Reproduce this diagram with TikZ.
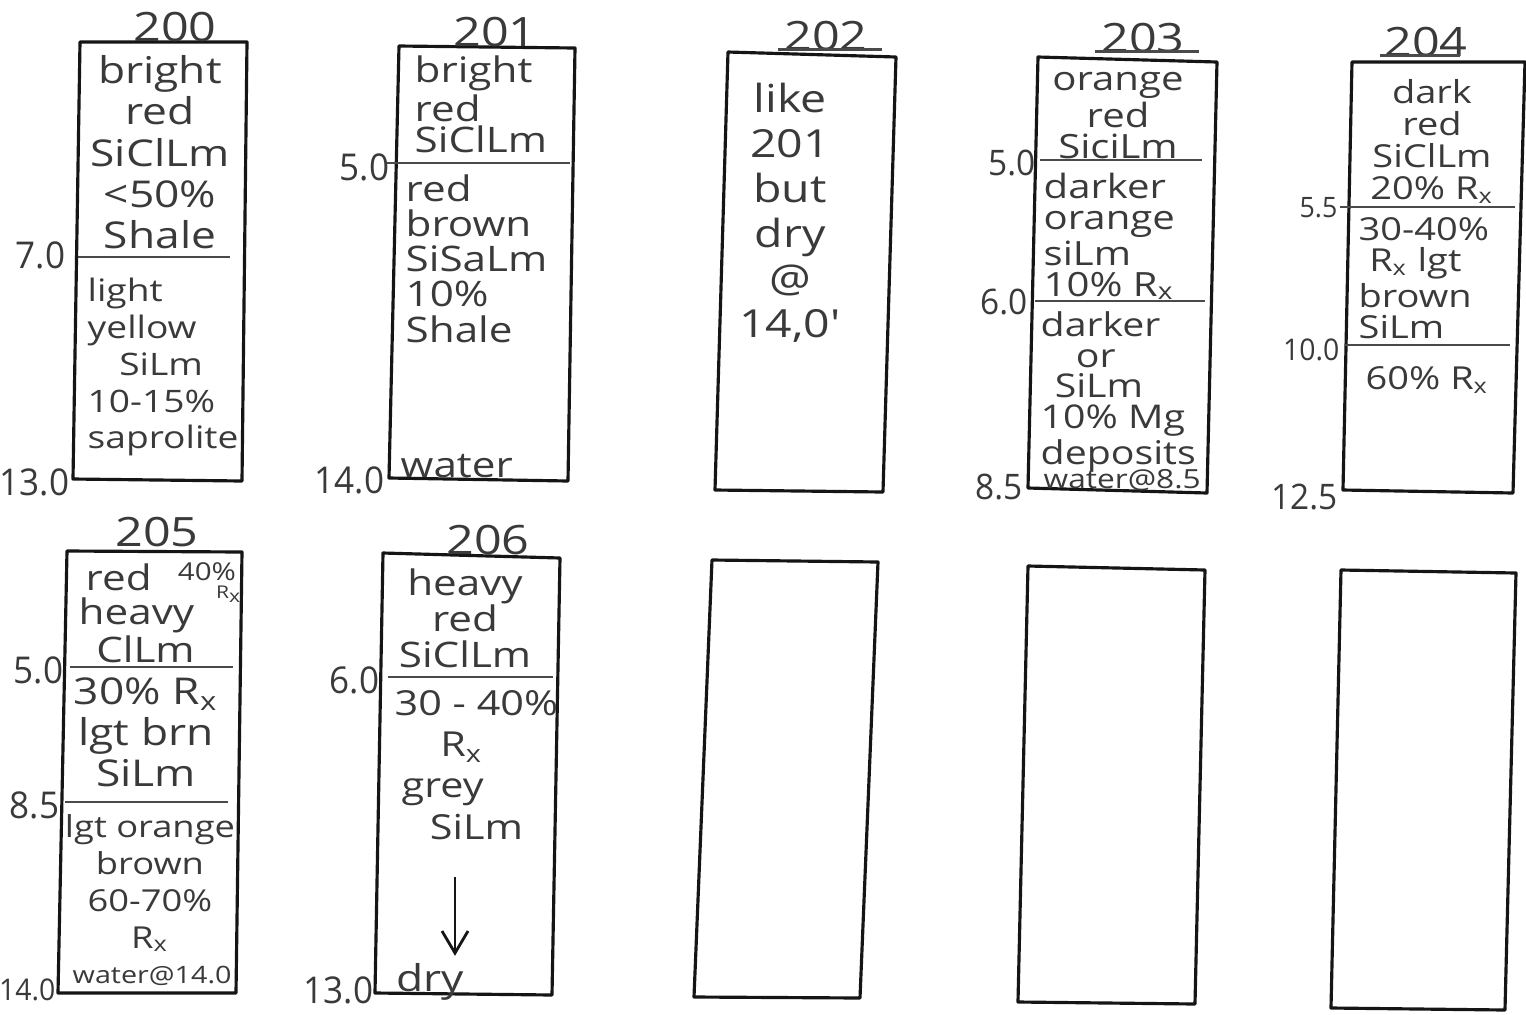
\documentclass[tikz,border=0pt]{standalone}
\usepackage{fontspec}
\newfontfamily\handfont[FakeStretch=1.2]{Open Sans}
\newfontfamily\numfont[FakeStretch=0.95]{Open Sans}
\definecolor{pencil}{HTML}{3A3A3A}
\definecolor{inkline}{HTML}{151515}
\definecolor{contactgray}{HTML}{4A4A4A}
\usetikzlibrary{arrows.meta}
\newcommand{\Rx}{R\textsubscript{x}}

\begin{document}
\begin{tikzpicture}[x=0.01cm, y=-0.01cm, >={Straight Barb[length=2.2mm, width=2.6mm]},
    corebox/.style={draw=inkline, line width=0.9pt, line join=round},
    contact/.style={draw=contactgray, line width=0.8pt},
    lay/.style 2 args={text=pencil, inner sep=0pt, font={\handfont\fontsize{#1}{#2}\selectfont}},
    hole/.style={lay={11.5}{11.5}},
    depth/.style={text=pencil, inner sep=0pt, anchor=east, font={\numfont\fontsize{#1}{#1}\selectfont}},
    depth/.default=10.5]
      \path[fill=white, use as bounding box] (0,0) rectangle (1526,1014);
      % Core 200
      \draw[corebox] (80,42) -- (247,42) -- (242,481) -- (73,479) -- cycle;
      \draw[contact] (78,257) -- (230,257);
      \node[hole] (h200) at (175,27) {200};
      \node[lay={10.5}{11.7}, align=center, anchor=north] (u200) at (160,55)
        {bright\\red\\SiClLm\\<50\%\\Shale};
      \node[lay={8.8}{10.5}, align=left, anchor=north west] (l200) at (87,277)
        {light\\yellow\\\hspace{9pt}SiLm\\10-15\%\\saprolite};
      \node[depth] (d200a) at (66,255) {7.0};
      \node[depth] (d200b) at (70,482) {13.0};
      % Core 201
      \draw[corebox] (399,46) -- (575,48) -- (568,481) -- (389,478) -- cycle;
      \draw[contact] (385,163) -- (570,163);
      \node[hole] (h201) at (495,32) {201};
      \node[lay={10}{8.8}, align=left, anchor=north west] (u201) at (414,55)
        {bright\\red\\SiClLm};
      \node[lay={10}{10}, align=left, anchor=north west] (l201) at (405,174)
        {red\\brown\\SiSaLm\\10\%\\Shale};
      \node[lay={10}{10}, anchor=west] (w201) at (400,466) {water};
      \node[depth] (d201a) at (390,167) {5.0};
      \node[depth] (d201b) at (385,480) {14.0};
      % Core 202
      \draw[corebox] (728,52) -- (896,57) -- (883,492) -- (715,490) -- cycle;
      \node[hole] (h202) at (826,36) {202};
      \draw[contactgray, line width=0.8pt] (h202.south west) ++(-6,-2) -- ++(104,0);
      \node[lay={11}{12.8}, align=center, anchor=north] (t202) at (790,82)
        {like\\201\\but\\dry\\@\\14,0'};
      % Core 203
      \draw[corebox] (1038,57) -- (1217,62) -- (1207,493) -- (1028,488) -- cycle;
      \draw[contact] (1040,160) -- (1202,160);
      \draw[contact] (1035,301) -- (1205,301);
      \node[hole] (h203) at (1143,38) {203};
      \draw[contactgray, line width=0.8pt] (h203.south west) ++(-6,-2) -- ++(104,0);
      \node[lay={9.5}{8.8}, align=center, anchor=north] (u203) at (1118,72)
        {orange\\red\\SiciLm};
      \node[lay={9.5}{8.8}, align=left, anchor=north west] (m203) at (1043,172)
        {darker\\orange\\siLm\\10\% \Rx};
      \node[lay={9.3}{8.7}, align=left, anchor=north west] (l203) at (1040,311)
        {darker\\\hspace{10pt}or\\\hspace{4pt}SiLm\\10\% Mg\\deposits};
      \node[lay={7.5}{7.5}, anchor=west] (w203) at (1043,480) {water@8.5};
      \node[depth=10] (d203a) at (1036,163) {5.0};
      \node[depth=10] (d203b) at (1028,302) {6.0};
      \node[depth=10] (d203c) at (1023,487) {8.5};
      % Core 204
      \draw[corebox] (1352,62) -- (1525,62) -- (1513,493) -- (1343,490) -- cycle;
      \draw[contact] (1340,207) -- (1515,207);
      \draw[contact] (1345,345) -- (1510,345);
      \node[hole] (h204) at (1426,42) {204};
      \draw[contactgray, line width=0.8pt] (h204.south west) ++(-4,-2) -- ++(80,0);
      \node[lay={9}{9.1}, align=center, anchor=north] (u204) at (1432,79)
        {dark\\red\\SiClLm\\20\% \Rx};
      \node[lay={9}{8.9}, align=left, anchor=north west] (m204) at (1358,217)
        {30-40\%\\\hspace{3pt}\Rx{} lgt\\brown\\SiLm};
      \node[lay={9}{9}, anchor=north west] (l204) at (1365,366) {60\% \Rx};
      \node[depth=8] (d204a) at (1338,208) {5.5};
      \node[depth=8.5] (d204b) at (1340,350) {10.0};
      \node[depth=10] (d204c) at (1338,497) {12.5};
      % Core 205
      \draw[corebox] (67,551) -- (242,552) -- (236,993) -- (58,993) -- cycle;
      \draw[contact] (70,667) -- (233,667);
      \draw[contact] (65,802) -- (228,802);
      \node[hole] (h205) at (157,532) {205};
      \node[lay={10}{9.6}, align=left, anchor=north west] (u205) at (78,563)
        {\hspace{2pt}red\\heavy\\\hspace{5pt}ClLm};
      \node[lay={7}{7}] (r205a) at (207,572) {40\%};
      \node[lay={5}{5}] (r205b) at (229,594) {\Rx};
      \node[lay={10.5}{11.7}, align=center, anchor=north] (m205) at (146,677)
        {30\% \Rx\\lgt brn\\SiLm};
      \node[lay={8.6}{10.5}, align=center, anchor=north] (l205) at (150,814)
        {lgt orange\\brown\\60-70\%\\\Rx};
      \node[lay={6.8}{7}, anchor=west] (w205) at (72,976) {water@14.0};
      \node[depth] (d205a) at (64,670) {5.0};
      \node[depth] (d205b) at (60,805) {8.5};
      \node[depth=8.5] (d205c) at (56,990) {14.0};
      % Core 206
      \draw[corebox] (383,553) -- (560,558) -- (552,995) -- (375,993) -- cycle;
      \draw[contact] (388,677) -- (553,677);
      \node[hole] (h206) at (488,540) {206};
      \node[lay={10}{10.2}, align=center, anchor=north] (u206) at (465,568)
        {heavy\\red\\SiClLm};
      \node[lay={9.8}{11.7}, align=left, anchor=north west] (l206) at (394,690)
        {30 - 40\%\\\hspace{13pt}\Rx\\\hspace{2pt}grey\\\hspace{10pt}SiLm};
      \node[lay={10.5}{10.5}, anchor=west] (dry206) at (396,982) {dry};
      \coordinate (arrtop) at (455,877);
      \draw[->, inkline, line width=0.8pt, shorten >=2pt] (arrtop) -- (arrtop |- dry206.north);
      \node[depth] (d206a) at (380,680) {6.0};
      \node[depth] (d206b) at (374,990) {13.0};
      % Empty cores
      \foreach \ax/\ay/\bx/\by/\cx/\cy/\dx/\dy in
          {712/560/878/562/860/998/694/997,
           1028/566/1205/570/1195/1004/1018/1002,
           1341/570/1516/573/1505/1010/1331/1008} {
        \draw[corebox] (\ax,\ay) -- (\bx,\by) -- (\cx,\cy) -- (\dx,\dy) -- cycle;
      }
    \end{tikzpicture}
\end{document}
